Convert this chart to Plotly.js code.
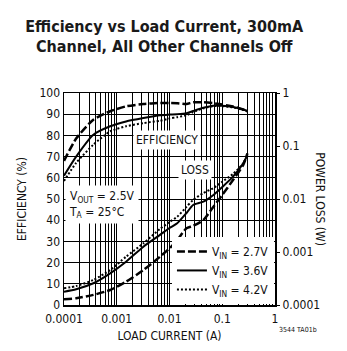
<!DOCTYPE html>
<html>
<head>
<meta charset="utf-8">
<script src="https://cdn.plot.ly/plotly-3.0.1.min.js"></script>
<style>html,body{margin:0;padding:0;background:#fff;}#chart{width:347px;height:351px;}</style>
</head>
<body>
<div id="chart"></div>
<script>
// Load current (A)
var current = [0.0001, 0.00017, 0.00036, 0.00075, 0.0015, 0.0032, 0.0066, 0.01, 0.014, 0.021, 0.028, 0.044, 0.068, 0.1, 0.16, 0.25, 0.3];
// Efficiency (%)
var eff27 = [68, 78.5, 87.4, 91.4, 93.7, 94.8, 95.3, 95.3, 95.2, 94.8, 95.6, 95.6, 95.2, 94.6, 93.6, 92.2, 91.5];
var eff36 = [61, 70, 80.3, 84.3, 86.6, 88.2, 89.5, 89.8, 90, 90.5, 91.5, 93, 94, 94, 93.4, 92.2, 91.5];
var eff42 = [58.5, 67, 75.6, 81.9, 84.3, 85.8, 86.9, 88, 88.6, 89.5, 91, 92.8, 93.8, 93.8, 93.2, 92, 91.3];
// Power loss (W)
var loss27 = [0.000128, 0.000134, 0.000155, 0.000192, 0.000275, 0.000457, 0.000815, 0.00117, 0.00168, 0.0028, 0.0031, 0.00402, 0.00716, 0.0119, 0.0228, 0.0438, 0.0728];
var loss36 = [0.000178, 0.000198, 0.000257, 0.000396, 0.000656, 0.00126, 0.0021, 0.00284, 0.00348, 0.00544, 0.0077, 0.0089, 0.0119, 0.0168, 0.0264, 0.0472, 0.0676];
var loss42 = [0.000207, 0.000228, 0.000296, 0.000457, 0.000815, 0.00146, 0.00272, 0.00368, 0.00463, 0.0071, 0.0096, 0.013, 0.0161, 0.0212, 0.0296, 0.0472, 0.0676];
// Tick labels
var xTickVals = [0.0001, 0.001, 0.01, 0.1, 1];
var xTickText = ['0.0001', '0.001', '0.01', '0.1', '1'];
var y2TickVals = [0.0001, 0.001, 0.01, 0.1, 1];
var y2TickText = ['0.0001', '0.001', '0.01', '0.1', '1'];
var seriesNames = ['V<sub>IN</sub> = 2.7V', 'V<sub>IN</sub> = 3.6V', 'V<sub>IN</sub> = 4.2V'];

var FONT = 'DejaVu Sans Condensed, Liberation Sans Narrow, Arial Narrow, sans-serif';
var styles = [
  {color: '#000', width: 2.5, dash: '8px,3px'},
  {color: '#000', width: 2, dash: 'solid'},
  {color: '#000', width: 2, dash: '2px,2px'}
];
var effs = [eff27, eff36, eff42];
var losses = [loss27, loss36, loss42];
var traces = [];
for (var i = 0; i < 3; i++) {
  traces.push({x: current, y: effs[i], type: 'scatter', mode: 'lines', line: Object.assign({shape: 'spline', smoothing: 0.6}, styles[i]), name: seriesNames[i], legendgroup: 'g' + i, xaxis: 'x', yaxis: 'y'});
}
for (var j = 0; j < 3; j++) {
  traces.push({x: current, y: losses[j], type: 'scatter', mode: 'lines', line: Object.assign({shape: 'spline', smoothing: 0.6}, styles[j]), name: seriesNames[j], legendgroup: 'g' + j, showlegend: false, xaxis: 'x', yaxis: 'y2'});
}

var layout = {
  width: 347, height: 351,
  margin: {l: 64, r: 72, t: 93, b: 46},
  paper_bgcolor: '#fff', plot_bgcolor: '#fff',
  font: {family: FONT, color: '#111', size: 12},
  showlegend: true,
  title: {
    text: '<b>Efficiency vs Load Current, 300mA<br>Channel, All Other Channels Off</b>',
    font: {family: FONT, size: 16, color: '#1a1a1a'},
    x: 0.475, xanchor: 'center', xref: 'paper',
    y: 0.91, yanchor: 'middle', yref: 'container'
  },
  xaxis: {
    type: 'log', range: [-4, 0],
    tickmode: 'array', tickvals: xTickVals, ticktext: xTickText,
    ticks: '', showgrid: true, gridcolor: '#000', gridwidth: 1,
    minor: {dtick: 'D1', showgrid: true, gridcolor: '#000', gridwidth: 1, ticks: ''},
    showline: true, linecolor: '#000', linewidth: 1.5, mirror: true,
    tickfont: {family: FONT, size: 12}, ticklabelstandoff: 2,
    title: {text: 'LOAD CURRENT (A)', font: {family: FONT, size: 12}, standoff: 6},
    zeroline: false
  },
  yaxis: {
    range: [0, 100], dtick: 10, tick0: 0,
    ticks: '', showgrid: true, gridcolor: '#000', gridwidth: 1,
    showline: true, linecolor: '#000', linewidth: 1.5, mirror: true,
    tickfont: {family: FONT, size: 12},
    title: {text: 'EFFICIENCY (%)', font: {family: FONT, size: 12}, standoff: 10},
    zeroline: false
  },
  yaxis2: {
    type: 'log', range: [-4, 0], overlaying: 'y', side: 'right',
    tickmode: 'array', tickvals: y2TickVals, ticktext: y2TickText,
    ticks: 'outside', ticklen: 4, tickcolor: '#000',
    showgrid: false, zeroline: false, showline: false,
    tickfont: {family: FONT, size: 12}
  },
  legend: {
    x: 0.995, xanchor: 'right', y: 0.005, yanchor: 'bottom',
    bgcolor: '#fff', borderwidth: 0,
    font: {family: FONT, size: 12},
    tracegroupgap: 0, itemwidth: 30
  },
  annotations: [
    {text: 'EFFICIENCY', xref: 'paper', yref: 'paper', x: 0.49, y: 0.825, showarrow: false, bgcolor: '#fff', borderpad: 2, font: {family: FONT, size: 12}},
    {text: 'LOSS', xref: 'paper', yref: 'paper', x: 0.70, y: 0.637, showarrow: false, bgcolor: '#fff', borderpad: 2, font: {family: FONT, size: 12}},
    {text: 'V<sub>OUT</sub> = 2.5V<br>T<sub>A</sub> = 25°C', xref: 'paper', yref: 'paper', x: 0.005, xanchor: 'left', y: 0.476, showarrow: false, align: 'left', bgcolor: '#fff', borderpad: 3, font: {family: FONT, size: 12}},
    {text: 'POWER LOSS (W)', xref: 'paper', yref: 'paper', x: 1.255, y: 0.5, textangle: 90, showarrow: false, font: {family: FONT, size: 12}},
    {text: '3544 TA01b', xref: 'paper', yref: 'paper', x: 1.21, y: -0.145, showarrow: false, font: {family: FONT, size: 7}}
  ]
};

Plotly.newPlot('chart', traces, layout, {staticPlot: true, displayModeBar: false});
</script>
</body>
</html>
